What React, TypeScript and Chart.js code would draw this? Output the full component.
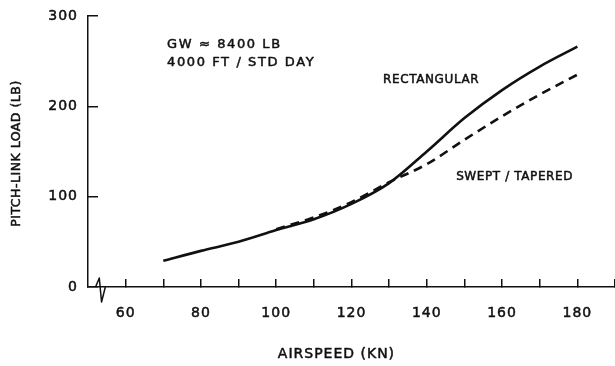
import { useEffect, useRef } from "react";
import { Chart, registerables } from "chart.js";

Chart.register(...registerables);

// ---- data ----
const rectSpeeds = [70, 80, 90, 100, 110, 120, 130, 140, 150, 160, 170, 180];
const rectLoads = [29, 40, 50, 63, 75, 92, 115, 150, 187, 218, 244, 266];

const sweptSpeeds = [100, 110, 120, 130, 140, 150, 160, 170, 180];
const sweptLoads = [64, 77, 94, 116, 136, 163, 189, 213, 235];

const xTickValues = [60, 70, 80, 90, 100, 110, 120, 130, 140, 150, 160, 170, 180, 190];
const xTickLabels = [60, 80, 100, 120, 140, 160, 180];
const yTickValues = [0, 100, 200, 300];

const xTitle = "AIRSPEED (KN)";
const yTitle = "PITCH-LINK LOAD (LB)";
const noteLines = ["GW \u2248 8400 LB", "4000 FT / STD DAY"];
const rectLabel = "RECTANGULAR";
const sweptLabel = "SWEPT / TAPERED";

// ---- styling / placement ----
const INK = "#111";
const FONT = "'DejaVu Sans', sans-serif";

function heavyText(ctx: CanvasRenderingContext2D, text: string, x: number, y: number) {
  ctx.fillText(text, x, y);
  ctx.strokeText(text, x, y);
}

const decor = {
  id: "decor",
  beforeDraw(chart: any) {
    chart.ctx.letterSpacing = "1px";
  },
  afterDraw(chart: any) {
    const { ctx, scales, chartArea } = chart;
    const xs = scales.x;
    const ys = scales.y;
    ctx.save();
    ctx.fillStyle = INK;
    ctx.strokeStyle = INK;
    ctx.lineWidth = 0.5;
    ctx.lineJoin = "round";
    ctx.textAlign = "left";
    ctx.textBaseline = "alphabetic";

    // GW note
    ctx.font = `13px ${FONT}`;
    ctx.letterSpacing = "1.6px";
    heavyText(ctx, noteLines[0], xs.getPixelForValue(71), ys.getPixelForValue(264.6));
    heavyText(ctx, noteLines[1], xs.getPixelForValue(71), ys.getPixelForValue(244.7));

    // curve labels
    ctx.font = `12px ${FONT}`;
    ctx.letterSpacing = "0.6px";
    heavyText(ctx, rectLabel, xs.getPixelForValue(128.4), ys.getPixelForValue(225.8));
    heavyText(ctx, sweptLabel, xs.getPixelForValue(147.8), ys.getPixelForValue(118.5));

    // x axis title
    ctx.font = `14px ${FONT}`;
    ctx.letterSpacing = "1px";
    ctx.textAlign = "center";
    heavyText(ctx, xTitle, xs.getPixelForValue(116), chartArea.bottom + 71);

    // y axis title
    ctx.save();
    ctx.translate(20, (chartArea.top + chartArea.bottom) / 2 + 2);
    ctx.rotate(-Math.PI / 2);
    ctx.font = `12.5px ${FONT}`;
    ctx.letterSpacing = "0.5px";
    heavyText(ctx, yTitle, 0, 0);
    ctx.restore();

    // axis break on the x axis
    const yb = ys.getPixelForValue(0);
    ctx.lineWidth = 1.5;
    ctx.beginPath();
    ctx.moveTo(xs.getPixelForValue(52), yb);
    ctx.lineTo(xs.getPixelForValue(53.0), yb - 9);
    ctx.lineTo(xs.getPixelForValue(53.6), yb + 15);
    ctx.lineTo(xs.getPixelForValue(54.6), yb);
    ctx.stroke();

    ctx.restore();
    ctx.letterSpacing = "0px";
  },
};

export default function App() {
  const ref = useRef<HTMLCanvasElement>(null);

  useEffect(() => {
    document.body.style.margin = "0";
    const canvas = ref.current;
    if (!canvas) return;
    const chart = new Chart(canvas, {
      type: "line",
      data: {
        datasets: [
          {
            label: rectLabel,
            data: rectSpeeds.map((x, i) => ({ x, y: rectLoads[i] })),
            borderColor: INK,
            borderWidth: 2.6,
            pointRadius: 0,
            cubicInterpolationMode: "monotone",
            fill: false,
          },
          {
            label: sweptLabel,
            data: sweptSpeeds.map((x, i) => ({ x, y: sweptLoads[i] })),
            borderColor: INK,
            borderWidth: 2.6,
            borderDash: [9, 6],
            pointRadius: 0,
            cubicInterpolationMode: "monotone",
            fill: false,
          },
        ],
      },
      options: {
        responsive: false,
        animation: false,
        layout: { padding: { top: 16, right: 0, left: 0, bottom: 0 } },
        plugins: {
          legend: { display: false },
          tooltip: { enabled: false },
        },
        scales: {
          x: {
            type: "linear",
            min: 50,
            max: 190,
            afterBuildTicks: (s: any) => {
              s.ticks = xTickValues.map((v) => ({ value: v }));
            },
            afterFit: (s: any) => {
              s.height = 79;
              s.paddingLeft = 0;
              s.paddingRight = 0;
            },
            ticks: {
              callback: (v: any) => (xTickLabels.includes(Number(v)) ? String(v) : ""),
              font: { family: FONT, size: 14 },
              color: INK,
              textStrokeColor: INK,
              textStrokeWidth: 0.5,
              padding: 26,
              maxRotation: 0,
              autoSkip: false,
            },
            grid: {
              drawOnChartArea: false,
              drawTicks: true,
              tickLength: -8,
              color: INK,
              lineWidth: 1.5,
            },
            border: { display: true, color: INK, width: 1.5 },
          },
          y: {
            type: "linear",
            min: 0,
            max: 300,
            afterBuildTicks: (s: any) => {
              s.ticks = yTickValues.map((v) => ({ value: v }));
            },
            afterFit: (s: any) => {
              s.width = 88;
              s.paddingTop = 0;
              s.paddingBottom = 0;
            },
            ticks: {
              font: { family: FONT, size: 14 },
              color: INK,
              textStrokeColor: INK,
              textStrokeWidth: 0.5,
              padding: 20,
            },
            grid: {
              drawOnChartArea: false,
              drawTicks: true,
              tickLength: -10,
              color: INK,
              lineWidth: 1.5,
            },
            border: { display: true, color: INK, width: 1.5 },
            title: { display: false, text: yTitle },
          },
        },
      },
      plugins: [decor],
    } as any);
    return () => chart.destroy();
  }, []);

  return (
    <div style={{ width: 615, height: 366 }}>
      <canvas ref={ref} width={615} height={366} style={{ display: "block" }} />
    </div>
  );
}
